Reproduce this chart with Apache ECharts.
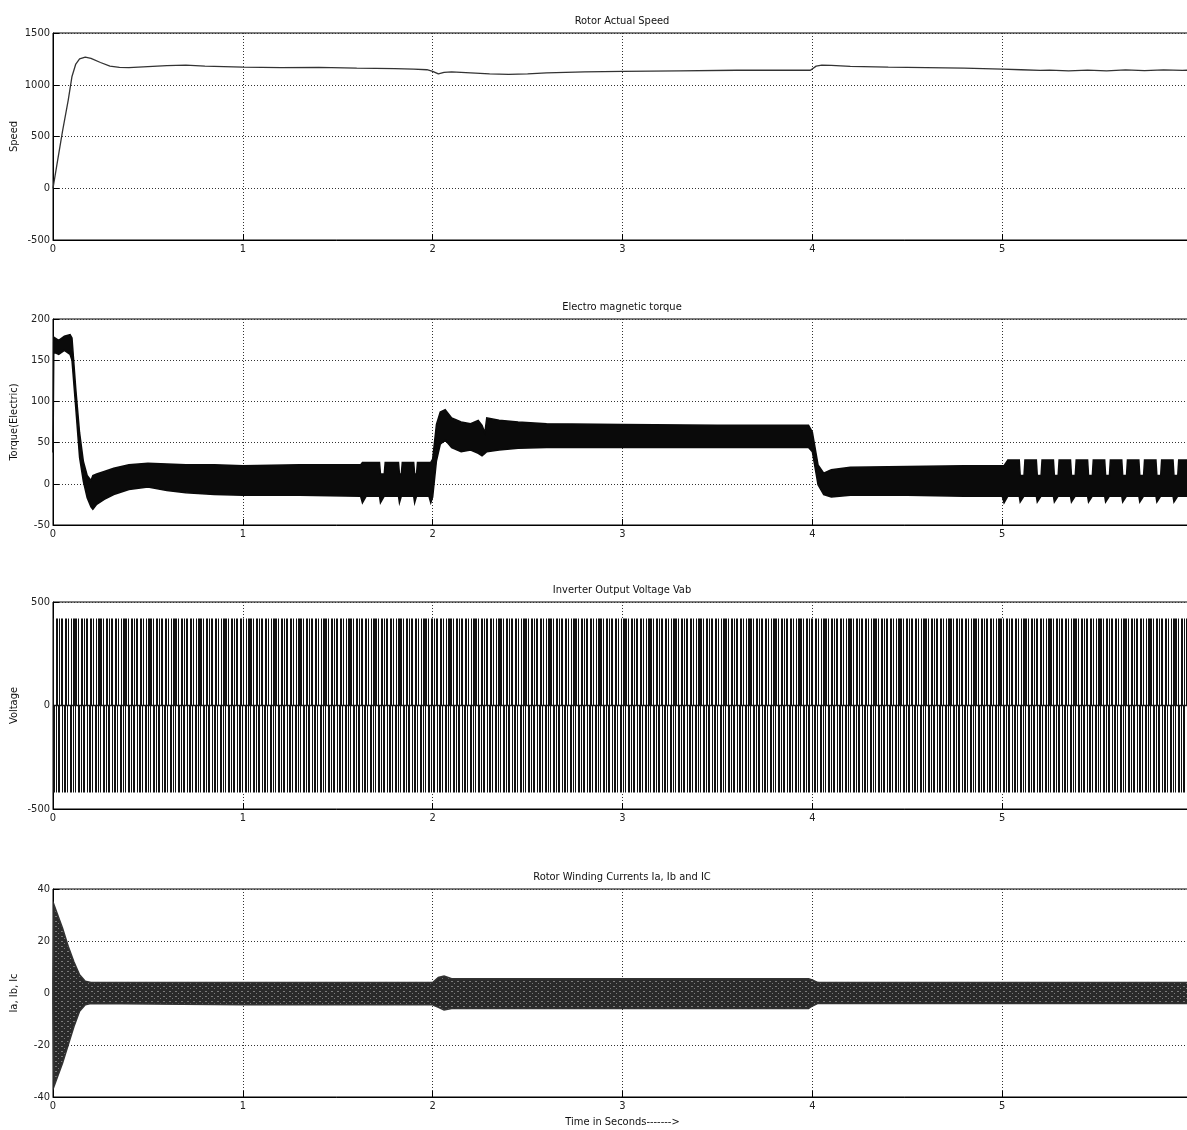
<!DOCTYPE html>
<html>
<head>
<meta charset="utf-8">
<title>Rotor simulation</title>
<script src="https://cdn.jsdelivr.net/npm/echarts@6/dist/echarts.min.js"></script>
<style>
  html, body { margin: 0; padding: 0; background: #fff; }
  #chart { width: 1187px; height: 1130px; }
</style>
</head>
<body>
<div id="chart"></div>
<script>
// ---- data ----
var xTicks = [0, 1, 2, 3, 4, 5, 6]

// rotor speed [t, rpm]
var speedData = [
  [0, 0], [0.02, 220], [0.05, 550], [0.08, 850], [0.1, 1080], [0.12, 1200], [0.14, 1250],
  [0.17, 1268], [0.2, 1255], [0.25, 1215], [0.3, 1180], [0.35, 1168], [0.4, 1165],
  [0.5, 1175], [0.6, 1185], [0.7, 1190], [0.8, 1180], [0.9, 1175], [1.0, 1170],
  [1.2, 1165], [1.4, 1168], [1.6, 1160], [1.8, 1155], [1.9, 1150], [1.97, 1145],
  [2.0, 1130], [2.03, 1105], [2.06, 1120], [2.1, 1125], [2.2, 1115], [2.3, 1105],
  [2.4, 1100], [2.5, 1105], [2.6, 1115], [2.8, 1125], [3.0, 1130], [3.3, 1135],
  [3.6, 1140], [3.9, 1140], [3.99, 1140], [4.02, 1180], [4.05, 1190], [4.1, 1188],
  [4.2, 1178], [4.4, 1170], [4.6, 1165], [4.8, 1160], [5.0, 1150], [5.1, 1145],
  [5.2, 1138], [5.25, 1142], [5.35, 1135], [5.45, 1142], [5.55, 1135], [5.65, 1143],
  [5.75, 1136], [5.85, 1144], [5.95, 1138], [6.0, 1142]
]

// electromagnetic torque envelope [t, upper, lower]
var torqueBand = [
  [0, 40, 38], [0.004, 178, 160], [0.03, 174, 157], [0.06, 179, 162], [0.09, 181, 157],
  [0.1, 177, 150], [0.12, 115, 92], [0.14, 62, 32], [0.16, 27, 3], [0.18, 10, -17],
  [0.2, 4, -28], [0.21, 10, -31], [0.23, 12, -25], [0.27, 15, -19], [0.32, 19, -13],
  [0.4, 23, -7], [0.5, 25, -4], [0.6, 24, -8], [0.7, 23, -11], [0.85, 23, -13],
  [1.0, 22, -14], [1.3, 23, -14], [1.62, 23, -15],
  [1.63, 26, -23], [1.65, 26, -15], [1.72, 26, -15], [1.725, 12, -23], [1.745, 12, -15],
  [1.75, 26, -15], [1.82, 26, -15], [1.825, 12, -23], [1.835, 12, -15],
  [1.84, 26, -15], [1.9, 26, -15], [1.905, 12, -23], [1.915, 12, -15],
  [1.92, 26, -15], [1.98, 26, -15], [1.99, 26, -23],
  [2.0, 30, -16], [2.02, 72, 28], [2.04, 87, 48], [2.066, 90, 53], [2.1, 80, 44],
  [2.15, 75, 39], [2.2, 73, 41], [2.24, 77, 37], [2.26, 71, 34], [2.275, 62, 37],
  [2.285, 80, 39], [2.35, 77, 41], [2.45, 75, 43], [2.6, 73, 44], [3.0, 72, 44],
  [3.5, 71, 44], [3.98, 71, 44], [4.0, 63, 39], [4.03, 23, -1], [4.06, 13, -13],
  [4.1, 17, -16], [4.2, 20, -14], [4.5, 21, -14], [4.8, 22, -15], [5.0, 22, -15],
  [5.01, 22, -23],
  [5.03, 29, -15], [5.09, 29, -15], [5.095, 10, -22], [5.115, 10, -15],
  [5.12, 29, -15], [5.18, 29, -15], [5.185, 10, -22], [5.205, 10, -15],
  [5.21, 29, -15], [5.27, 29, -15], [5.275, 10, -22], [5.295, 10, -15],
  [5.3, 29, -15], [5.36, 29, -15], [5.365, 10, -22], [5.385, 10, -15],
  [5.39, 29, -15], [5.45, 29, -15], [5.455, 10, -22], [5.475, 10, -15],
  [5.48, 29, -15], [5.54, 29, -15], [5.545, 10, -22], [5.565, 10, -15],
  [5.57, 29, -15], [5.63, 29, -15], [5.635, 10, -22], [5.655, 10, -15],
  [5.66, 29, -15], [5.72, 29, -15], [5.725, 10, -22], [5.745, 10, -15],
  [5.75, 29, -15], [5.81, 29, -15], [5.815, 10, -22], [5.835, 10, -15],
  [5.84, 29, -15], [5.9, 29, -15], [5.905, 10, -22], [5.925, 10, -15],
  [5.93, 29, -15], [6.0, 29, -15]
]

// inverter output voltage Vab, switching levels
var voltTime = [0, 6]
var voltHigh = [420, 420]
var voltZero = [0, 0]
var voltLow = [-420, -420]

// rotor winding currents Ia, Ib, Ic envelope [t, upper, lower]
var currentBand = [
  [0, 4, -4], [0.005, 34, -36], [0.02, 31, -33], [0.05, 25, -27], [0.08, 18, -20],
  [0.11, 12, -13], [0.14, 7, -7], [0.17, 4.5, -4.5], [0.2, 4, -4], [1.0, 4, -4.5],
  [2.0, 4, -4.5], [2.03, 6, -5.5], [2.06, 6.5, -6.5], [2.1, 5.5, -6], [2.3, 5.5, -6],
  [3.0, 5.5, -6], [3.98, 5.5, -6], [4.0, 5, -5], [4.03, 4, -4], [6.0, 4, -4]
]

var titles = ['Rotor Actual Speed', 'Electro magnetic torque', 'Inverter Output Voltage Vab', 'Rotor Winding Currents Ia, Ib and IC']
var yNames = ['Speed', 'Torque(Electric)', 'Voltage', 'Ia, Ib, Ic']
var yRanges = [[-500, 1500, 500], [-50, 200, 50], [-500, 500, 500], [-40, 40, 20]]

// ---- styling helpers ----
var FONT = "'Liberation Sans Narrow','Arial Narrow','DejaVu Sans Condensed',sans-serif"

function stripes (code, dark) {
  var c = document.createElement('canvas')
  c.width = code.length
  c.height = 4
  var ctx = c.getContext('2d')
  ctx.fillStyle = '#fff'
  ctx.fillRect(0, 0, c.width, c.height)
  ctx.fillStyle = dark
  for (var i = 0; i < code.length; i++) {
    if (code[i] === '1') ctx.fillRect(i, 0, 1, c.height)
  }
  return { image: c, repeat: 'repeat' }
}

function speckle () {
  var c = document.createElement('canvas')
  c.width = 6
  c.height = 5
  var ctx = c.getContext('2d')
  ctx.fillStyle = '#2a2a2a'
  ctx.fillRect(0, 0, 6, 5)
  ctx.fillStyle = '#7a7a7a'
  ctx.fillRect(1, 1, 2, 1)
  ctx.fillRect(4, 3, 1, 1)
  return { image: c, repeat: 'repeat' }
}

// polygon between an upper and a lower trace, positioned through the axis scales
function band (idx, times, upper, lower, fill, stroke) {
  return {
    type: 'custom',
    xAxisIndex: idx,
    yAxisIndex: idx,
    silent: true,
    data: times.map(function (t, i) { return [t, upper[i], lower[i]] }),
    encode: { x: 0, y: [1, 2] },
    renderItem: function (params, api) {
      if (params.dataIndex !== 0) return null
      var pts = []
      for (var i = 0; i < times.length; i++) pts.push(api.coord([times[i], upper[i]]))
      for (var j = times.length - 1; j >= 0; j--) pts.push(api.coord([times[j], lower[j]]))
      return {
        type: 'polygon',
        shape: { points: pts },
        style: { fill: fill, stroke: stroke || null, lineWidth: 1.5 }
      }
    }
  }
}

function col (arr, k) { return arr.map(function (r) { return r[k] }) }

var tops = [33, 319, 602, 889]
var heights = [207, 206, 207, 208]

var option = {
  animation: false,
  backgroundColor: '#fff',
  grid: tops.map(function (t, i) {
    return {
      left: 53, top: t, width: 1139, height: heights[i],
      outerBoundsMode: 'none', containLabel: false,
      show: true, borderColor: '#000', borderWidth: 1, backgroundColor: '#fff'
    }
  }),
  graphic: titles.map(function (txt, i) {
    return {
      type: 'text',
      x: 622,
      y: tops[i] - 12,
      style: { text: txt, align: 'center', verticalAlign: 'middle', font: '11px ' + FONT, fill: '#111' }
    }
  }),
  xAxis: tops.map(function (t, i) {
    return {
      gridIndex: i,
      type: 'value',
      min: xTicks[0],
      max: xTicks[xTicks.length - 1],
      interval: 1,
      name: i === 3 ? 'Time in Seconds------->' : '',
      nameLocation: 'middle',
      nameGap: 20,
      nameMoveOverlap: false,
      nameTextStyle: { fontFamily: FONT, fontSize: 11, color: '#111' },
      axisLine: { onZero: false, lineStyle: { color: '#000', width: 1 } },
      axisTick: { inside: true, length: 6, lineStyle: { color: '#000' } },
      axisLabel: { color: '#222', fontFamily: FONT, fontSize: 11, margin: 4, formatter: function (v) { return String(v) } },
      splitLine: { show: true, lineStyle: { color: '#333', type: [1, 2], width: 1 } }
    }
  }),
  yAxis: yRanges.map(function (r, i) {
    return {
      gridIndex: i,
      type: 'value',
      min: r[0],
      max: r[1],
      interval: r[2],
      name: yNames[i],
      nameLocation: 'middle',
      nameGap: 33,
      nameMoveOverlap: false,
      nameTextStyle: { fontFamily: FONT, fontSize: 11, color: '#111' },
      axisLine: { show: true, onZero: false, lineStyle: { color: '#000', width: 1 } },
      axisTick: { show: true, inside: true, length: 6, lineStyle: { color: '#000' } },
      axisLabel: { color: '#222', fontFamily: FONT, fontSize: 11, margin: 3, formatter: function (v) { return String(v) } },
      splitLine: { show: true, lineStyle: { color: '#333', type: [1, 2], width: 1 } }
    }
  }),
  series: [
    {
      name: 'Speed',
      type: 'line',
      xAxisIndex: 0,
      yAxisIndex: 0,
      data: speedData,
      showSymbol: false,
      lineStyle: { color: '#333', width: 1.3 }
    },
    band(1, col(torqueBand, 0), col(torqueBand, 1), col(torqueBand, 2), '#0a0a0a', '#0a0a0a'),
    band(2, voltTime, voltHigh, voltZero, stripes('1101001101011001101001011', '#111')),
    band(2, voltTime, voltZero, voltLow, stripes('1001101011001011010011010', '#111')),
    {
      name: 'Vab',
      type: 'line',
      xAxisIndex: 2,
      yAxisIndex: 2,
      data: voltTime.map(function (t, i) { return [t, voltZero[i]] }),
      showSymbol: false,
      lineStyle: { color: '#111', width: 1.5 }
    },
    band(3, col(currentBand, 0), col(currentBand, 1), col(currentBand, 2), speckle(), '#333')
  ]
}

var myChart = echarts.init(document.getElementById('chart'))
myChart.setOption(option)
</script>
</body>
</html>
